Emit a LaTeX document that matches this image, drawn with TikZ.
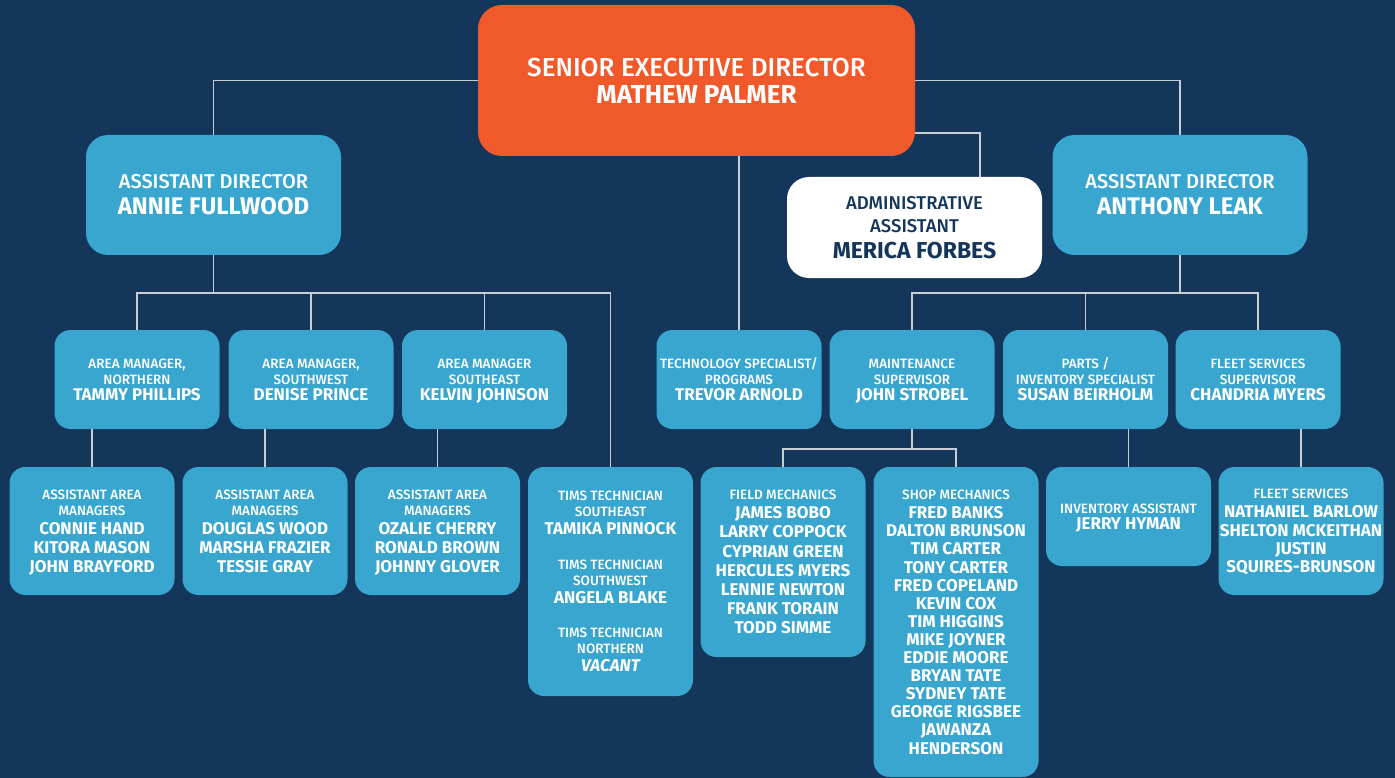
\documentclass[tikz,border=0pt]{standalone}
\usepackage{fontspec}
\setmainfont{Fira Sans}[UprightFont=* Medium, BoldFont=* Bold, ItalicFont=* Medium Italic, BoldItalicFont=* Bold Italic]
\usepackage{tikz}

\definecolor{fondo}{HTML}{13365A}
\definecolor{naranja}{HTML}{F05A2B}
\definecolor{celeste}{HTML}{38A6CF}
\definecolor{gris}{HTML}{C9CED4}

\newcommand{\nm}[1]{{\bfseries\fontsize{17}{16}\selectfont #1}}
\newcommand{\gnm}[1]{{\bfseries\fontsize{24}{26}\selectfont #1}}

\tikzset{
	caja/.style={fill=celeste, rounded corners=16pt, inner sep=0pt, align=center, text=white, minimum width=165pt},
	jefe/.style={caja, fill=naranja, rounded corners=24pt, minimum width=437pt, minimum height=151pt, font=\fontsize{26}{27}\selectfont},
	director/.style={caja, rounded corners=22pt, minimum width=255pt, minimum height=120pt, font=\fontsize{20}{26}\selectfont},
	asistente/.style={director, fill=white, text=fondo, minimum height=101pt, font=\fontsize{18.5}{23}\selectfont},
	gerente/.style={caja, minimum height=99pt, text height=41pt, text depth=0pt, font=\fontsize{13.5}{16}\selectfont},
	equipo/.style={caja, text depth=0pt, font=\fontsize{13.5}{19}\selectfont},
	arco/.style={draw=gris, line width=1.8pt}
}

\begin{document}
\begin{tikzpicture}[x=1pt,y=-1pt]
		\fill[fondo] (0,0) rectangle (1395,778);

		%Nodos
		\node [jefe] (nodo0) at (696.5,80.5) {SENIOR EXECUTIVE DIRECTOR\\ \textbf{MATHEW PALMER}};
		\node [director] (nodo1) at (213.5,195) {ASSISTANT DIRECTOR\\ \gnm{ANNIE FULLWOOD}};
		\node [asistente] (nodo2) at (914.5,227.5) {ADMINISTRATIVE\\ASSISTANT\\[2.7pt] {\bfseries\fontsize{23}{23}\selectfont MERICA FORBES}};
		\node [director] (nodo3) at (1180,195) {ASSISTANT DIRECTOR\\ \gnm{ANTHONY LEAK}};

		\node [gerente] (nodo4) at (137,379.5) {AREA MANAGER,\\NORTHERN\\ \nm{TAMMY PHILLIPS}};
		\node [gerente] (nodo5) at (311,379.5) {AREA MANAGER,\\SOUTHWEST\\ \nm{DENISE PRINCE}};
		\node [gerente] (nodo6) at (484.5,379.5) {AREA MANAGER\\SOUTHEAST\\ \nm{KELVIN JOHNSON}};
		\node [gerente] (nodo7) at (739,379.5) {TECHNOLOGY SPECIALIST/\\PROGRAMS\\ \nm{TREVOR ARNOLD}};
		\node [gerente] (nodo8) at (912,379.5) {MAINTENANCE\\SUPERVISOR\\ \nm{JOHN STROBEL}};
		\node [gerente] (nodo9) at (1085.5,379.5) {PARTS /\\INVENTORY SPECIALIST\\ \nm{SUSAN BEIRHOLM}};
		\node [gerente] (nodo10) at (1258,379.5) {FLEET SERVICES\\SUPERVISOR\\ \nm{CHANDRIA MYERS}};

		\node [equipo, minimum height=128pt] (nodo11) at (92,531) {ASSISTANT AREA\\[-3pt]MANAGERS\\ \nm{CONNIE HAND}\\ \nm{KITORA MASON}\\ \nm{JOHN BRAYFORD}};
		\node [equipo, minimum height=128pt] (nodo12) at (265,531) {ASSISTANT AREA\\[-3pt]MANAGERS\\ \nm{DOUGLAS WOOD}\\ \nm{MARSHA FRAZIER}\\ \nm{TESSIE GRAY}};
		\node [equipo, minimum height=128pt] (nodo13) at (437.5,531) {ASSISTANT AREA\\[-3pt]MANAGERS\\ \nm{OZALIE CHERRY}\\ \nm{RONALD BROWN}\\ \nm{JOHNNY GLOVER}};
		\node [equipo, minimum height=229pt] (nodo14) at (610.5,581.5) {TIMS TECHNICIAN\\[-3pt]SOUTHEAST\\[-1pt]\nm{TAMIKA PINNOCK}\\[15.7pt]TIMS TECHNICIAN\\[-3pt]SOUTHWEST\\[-1pt]\nm{ANGELA BLAKE}\\[15.7pt]TIMS TECHNICIAN\\[-3pt]NORTHERN\\[-1pt]\nm{\itshape VACANT}};
		\node [equipo, minimum height=190pt, font=\fontsize{13.5}{19.2}\selectfont] (nodo15) at (783,562) {FIELD MECHANICS\\ \nm{JAMES BOBO}\\ \nm{LARRY COPPOCK}\\ \nm{CYPRIAN GREEN}\\ \nm{HERCULES MYERS}\\ \nm{LENNIE NEWTON}\\ \nm{FRANK TORAIN}\\ \nm{TODD SIMME}};
		\node [equipo, minimum height=310pt, font=\fontsize{13.5}{18.1}\selectfont] (nodo16) at (956,622) {SHOP MECHANICS\\[1.2pt]\nm{FRED BANKS}\\ \nm{DALTON BRUNSON}\\ \nm{TIM CARTER}\\ \nm{TONY CARTER}\\ \nm{FRED COPELAND}\\ \nm{KEVIN COX}\\ \nm{TIM HIGGINS}\\ \nm{MIKE JOYNER}\\ \nm{EDDIE MOORE}\\ \nm{BRYAN TATE}\\ \nm{SYDNEY TATE}\\ \nm{GEORGE RIGSBEE}\\ \nm{JAWANZA}\\ \nm{HENDERSON}};
		\node [equipo, minimum height=99pt] (nodo17) at (1128.5,516.5) {INVENTORY ASSISTANT\\[-2.7pt]\nm{JERRY HYMAN}};
		\node [equipo, minimum height=128pt, font=\fontsize{13.5}{18.3}\selectfont] (nodo18) at (1301,531) {FLEET SERVICES\\[1pt]\nm{NATHANIEL BARLOW}\\ \nm{SHELTON MCKEITHAN}\\ \nm{JUSTIN}\\ \nm{SQUIRES-BRUNSON}};

		\coordinate (bus1) at (213.5,293);
		\coordinate (bus2) at (1180,293);
		\coordinate (bus3) at (912,449);

		%Arcos
		\draw[arco] (nodo0.west) -| (nodo1.north);
		\draw[arco] (nodo0.east) -| (nodo3.north);
		\draw[arco] ([yshift=-52.5pt]nodo0.east) -| ([xshift=65.5pt]nodo2.north);
		\draw[arco] (nodo0.south -| nodo7.north) -- (nodo7.north);
		\draw[arco] (nodo1.south) -- (bus1);
		\draw[arco] (nodo4.north) |- (bus1) -| (nodo14.north);
		\draw[arco] (nodo5.north) -- (nodo5.north |- bus1);
		\draw[arco] (nodo6.north) -- (nodo6.north |- bus1);
		\draw[arco] (nodo3.south) -- (bus2);
		\draw[arco] (nodo8.north) |- (bus2) -| (nodo10.north);
		\draw[arco] (nodo9.north) -- (nodo9.north |- bus2);
		\draw[arco] (nodo11.north) -- (nodo11.north |- nodo4.south);
		\draw[arco] (nodo12.north) -- (nodo12.north |- nodo5.south);
		\draw[arco] (nodo13.north) -- (nodo13.north |- nodo6.south);
		\draw[arco] (nodo8.south) -- (bus3);
		\draw[arco] (nodo15.north) |- (bus3) -| (nodo16.north);
		\draw[arco] (nodo17.north) -- (nodo17.north |- nodo9.south);
		\draw[arco] (nodo18.north) -- (nodo18.north |- nodo10.south);
\end{tikzpicture}
\end{document}
